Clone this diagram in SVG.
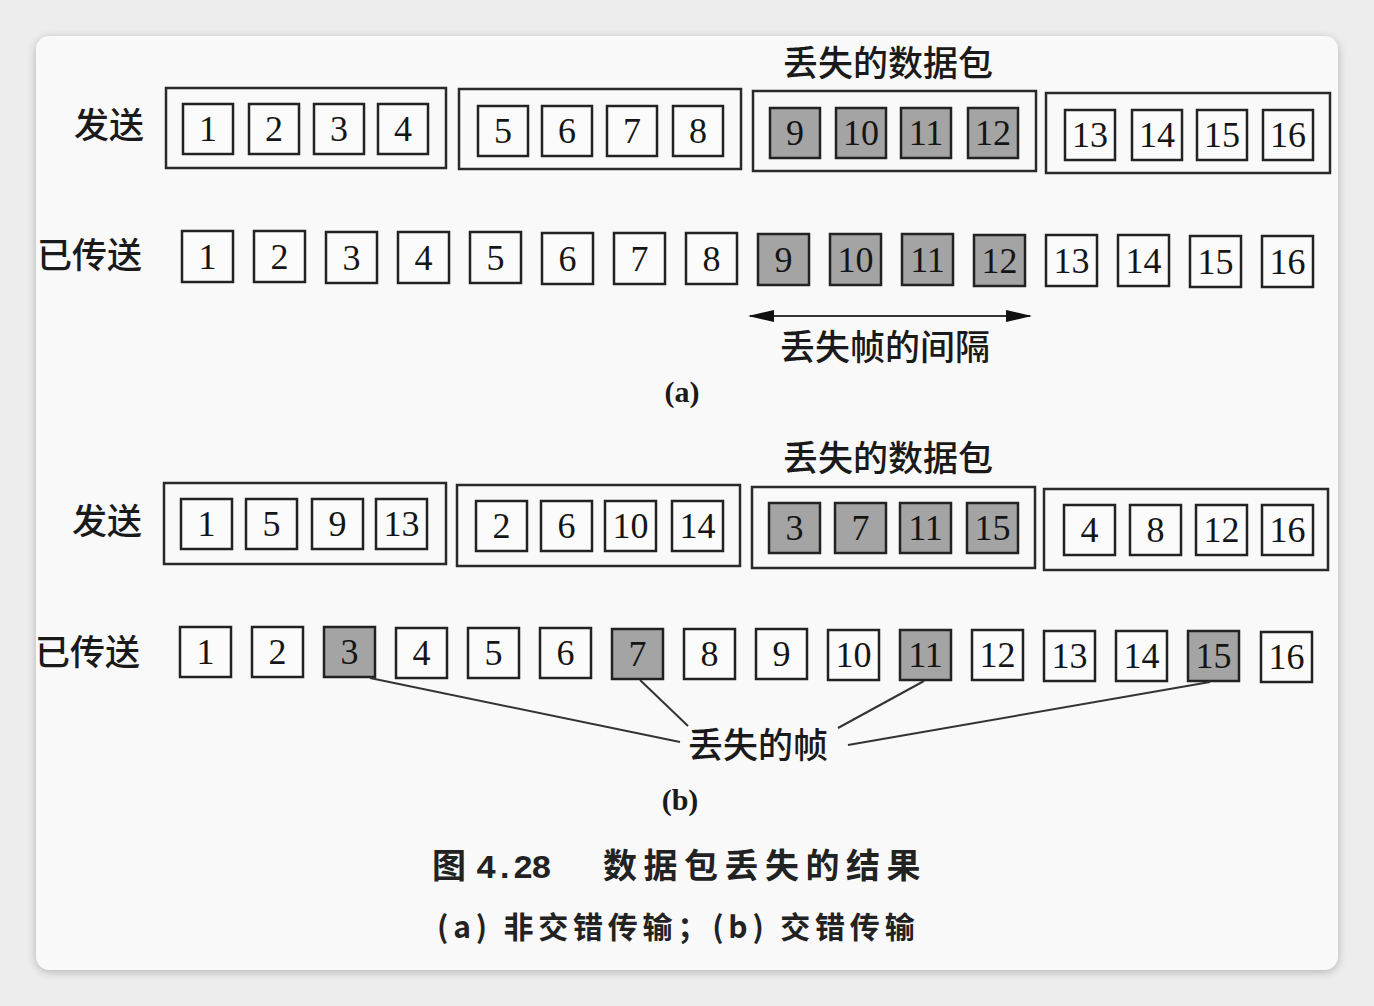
<svg xmlns="http://www.w3.org/2000/svg" width="1374" height="1006" viewBox="0 0 1374 1006">
<defs>
<style>
.bg{fill:#ededed}
.card{fill:#f9f9f9}
.g{fill:none;stroke:#2a2a2a;stroke-width:2.5}
.b{fill:#fbfbfb;stroke:#222;stroke-width:2.5}
.s{fill:#a4a4a4;stroke:#222;stroke-width:2.5}
.n{font-family:"Liberation Serif","Times New Roman",serif;font-size:36px;fill:#151515;text-anchor:middle}
.cn{font-family:"Noto Sans CJK SC",sans-serif;font-size:35px;fill:#1a1a1a;font-weight:500}
.lb{font-family:"Liberation Serif",serif;font-size:30px;font-weight:bold;fill:#1a1a1a;text-anchor:middle}
.cap{font-family:"Noto Sans CJK SC",sans-serif;font-weight:bold;fill:#222}
.mono{font-family:"Liberation Mono","Courier New",monospace;font-weight:bold;fill:#222}
.ln{stroke:#333;stroke-width:2;fill:none}
</style>
<marker id="ah" viewBox="0 0 26 12" refX="24" refY="6" markerWidth="26" markerHeight="12" markerUnits="userSpaceOnUse" orient="auto-start-reverse">
<path d="M0,0 L26,6 L0,12 Z" fill="#111"/>
</marker>
<filter id="sh" x="-5%" y="-5%" width="110%" height="110%">
<feGaussianBlur in="SourceAlpha" stdDeviation="5"/>
<feOffset dy="2"/>
<feComponentTransfer><feFuncA type="linear" slope="0.25"/></feComponentTransfer>
<feMerge><feMergeNode/><feMergeNode in="SourceGraphic"/></feMerge>
</filter>
</defs>
<rect class="bg" x="0" y="0" width="1374" height="1006"/>
<rect class="card" x="36" y="36" width="1302" height="934" rx="14" filter="url(#sh)"/>

<!-- (a) labels -->
<text class="cn" x="783" y="76">丢失的数据包</text>
<text class="cn" x="74" y="138">发送</text>
<text class="cn" x="37" y="268">已传送</text>
<text class="cn" x="780" y="360">丢失帧的间隔</text>
<text class="lb" x="682" y="402">(a)</text>

<!-- (a) send groups -->
<g id="a-send-g1"><rect class="g" x="166" y="88" width="280" height="80"/>
<rect class="b" x="183" y="104" width="50" height="50"/><text class="n" x="208" y="141">1</text>
<rect class="b" x="249" y="104" width="50" height="50"/><text class="n" x="274" y="141">2</text>
<rect class="b" x="314" y="104" width="50" height="50"/><text class="n" x="339" y="141">3</text>
<rect class="b" x="378" y="104" width="50" height="50"/><text class="n" x="403" y="141">4</text></g>
<g id="a-send-g2"><rect class="g" x="459" y="89" width="282" height="80"/>
<rect class="b" x="478" y="106" width="50" height="50"/><text class="n" x="503" y="143">5</text>
<rect class="b" x="542" y="106" width="50" height="50"/><text class="n" x="567" y="143">6</text>
<rect class="b" x="607" y="106" width="50" height="50"/><text class="n" x="632" y="143">7</text>
<rect class="b" x="673" y="106" width="50" height="50"/><text class="n" x="698" y="143">8</text></g>
<g id="a-send-g3"><rect class="g" x="753" y="91" width="283" height="80"/>
<rect class="s" x="770" y="108" width="50" height="50"/><text class="n" x="795" y="145">9</text>
<rect class="s" x="836" y="108" width="50" height="50"/><text class="n" x="861" y="145">10</text>
<rect class="s" x="901" y="108" width="50" height="50"/><text class="n" x="926" y="145">11</text>
<rect class="s" x="968" y="108" width="50" height="50"/><text class="n" x="993" y="145">12</text></g>
<g id="a-send-g4"><rect class="g" x="1046" y="93" width="284" height="80"/>
<rect class="b" x="1065" y="110" width="50" height="50"/><text class="n" x="1090" y="147">13</text>
<rect class="b" x="1132" y="110" width="50" height="50"/><text class="n" x="1157" y="147">14</text>
<rect class="b" x="1197" y="110" width="50" height="50"/><text class="n" x="1222" y="147">15</text>
<rect class="b" x="1263" y="110" width="50" height="50"/><text class="n" x="1288" y="147">16</text></g>

<!-- (a) transmitted -->
<g id="a-tx">
<rect class="b" x="182" y="231" width="51" height="51"/><text class="n" x="207.5" y="269">1</text>
<rect class="b" x="254" y="231" width="51" height="51"/><text class="n" x="279.5" y="269">2</text>
<rect class="b" x="326" y="232" width="51" height="51"/><text class="n" x="351.5" y="270">3</text>
<rect class="b" x="398" y="232" width="51" height="51"/><text class="n" x="423.5" y="270">4</text>
<rect class="b" x="470" y="232" width="51" height="51"/><text class="n" x="495.5" y="270">5</text>
<rect class="b" x="542" y="233" width="51" height="51"/><text class="n" x="567.5" y="271">6</text>
<rect class="b" x="614" y="233" width="51" height="51"/><text class="n" x="639.5" y="271">7</text>
<rect class="b" x="686" y="233" width="51" height="51"/><text class="n" x="711.5" y="271">8</text>
<rect class="s" x="758" y="234" width="51" height="51"/><text class="n" x="783.5" y="272">9</text>
<rect class="s" x="830" y="234" width="51" height="51"/><text class="n" x="855.5" y="272">10</text>
<rect class="s" x="902" y="234" width="51" height="51"/><text class="n" x="927.5" y="272">11</text>
<rect class="s" x="974" y="235" width="51" height="51"/><text class="n" x="999.5" y="273">12</text>
<rect class="b" x="1046" y="235" width="51" height="51"/><text class="n" x="1071.5" y="273">13</text>
<rect class="b" x="1118" y="235" width="51" height="51"/><text class="n" x="1143.5" y="273">14</text>
<rect class="b" x="1190" y="236" width="51" height="51"/><text class="n" x="1215.5" y="274">15</text>
<rect class="b" x="1262" y="236" width="51" height="51"/><text class="n" x="1287.5" y="274">16</text>
</g>

<!-- (b) labels -->
<text class="cn" x="783" y="471">丢失的数据包</text>
<text class="cn" x="72" y="534">发送</text>
<text class="cn" x="35" y="665">已传送</text>
<text class="cn" x="688" y="758">丢失的帧</text>
<text class="lb" x="680" y="810">(b)</text>

<!-- (b) send groups -->
<g id="b-send-g1"><rect class="g" x="164" y="483" width="282" height="81"/>
<rect class="b" x="181" y="499" width="51" height="50"/><text class="n" x="206.5" y="536">1</text>
<rect class="b" x="246" y="499" width="51" height="50"/><text class="n" x="271.5" y="536">5</text>
<rect class="b" x="312" y="499" width="51" height="50"/><text class="n" x="337.5" y="536">9</text>
<rect class="b" x="376" y="499" width="51" height="50"/><text class="n" x="401.5" y="536">13</text></g>
<g id="b-send-g2"><rect class="g" x="457" y="485" width="283" height="81"/>
<rect class="b" x="476" y="501" width="51" height="50"/><text class="n" x="501.5" y="538">2</text>
<rect class="b" x="541" y="501" width="51" height="50"/><text class="n" x="566.5" y="538">6</text>
<rect class="b" x="605" y="501" width="51" height="50"/><text class="n" x="630.5" y="538">10</text>
<rect class="b" x="672" y="501" width="51" height="50"/><text class="n" x="697.5" y="538">14</text></g>
<g id="b-send-g3"><rect class="g" x="752" y="487" width="283" height="81"/>
<rect class="s" x="769" y="503" width="51" height="50"/><text class="n" x="794.5" y="540">3</text>
<rect class="s" x="835" y="503" width="51" height="50"/><text class="n" x="860.5" y="540">7</text>
<rect class="s" x="900" y="503" width="51" height="50"/><text class="n" x="925.5" y="540">11</text>
<rect class="s" x="967" y="503" width="51" height="50"/><text class="n" x="992.5" y="540">15</text></g>
<g id="b-send-g4"><rect class="g" x="1044" y="489" width="284" height="81"/>
<rect class="b" x="1064" y="505" width="51" height="50"/><text class="n" x="1089.5" y="542">4</text>
<rect class="b" x="1130" y="505" width="51" height="50"/><text class="n" x="1155.5" y="542">8</text>
<rect class="b" x="1196" y="505" width="51" height="50"/><text class="n" x="1221.5" y="542">12</text>
<rect class="b" x="1262" y="505" width="51" height="50"/><text class="n" x="1287.5" y="542">16</text></g>

<!-- (b) transmitted -->
<g id="b-tx">
<rect class="b" x="180" y="627" width="51" height="50"/><text class="n" x="205.5" y="664">1</text>
<rect class="b" x="252" y="627" width="51" height="50"/><text class="n" x="277.5" y="664">2</text>
<rect class="s" x="324" y="627" width="51" height="50"/><text class="n" x="349.5" y="664">3</text>
<rect class="b" x="396" y="628" width="51" height="50"/><text class="n" x="421.5" y="665">4</text>
<rect class="b" x="468" y="628" width="51" height="50"/><text class="n" x="493.5" y="665">5</text>
<rect class="b" x="540" y="628" width="51" height="50"/><text class="n" x="565.5" y="665">6</text>
<rect class="s" x="612" y="629" width="51" height="50"/><text class="n" x="637.5" y="666">7</text>
<rect class="b" x="684" y="629" width="51" height="50"/><text class="n" x="709.5" y="666">8</text>
<rect class="b" x="756" y="629" width="51" height="50"/><text class="n" x="781.5" y="666">9</text>
<rect class="b" x="828" y="630" width="51" height="50"/><text class="n" x="853.5" y="667">10</text>
<rect class="s" x="900" y="630" width="51" height="50"/><text class="n" x="925.5" y="667">11</text>
<rect class="b" x="972" y="630" width="51" height="50"/><text class="n" x="997.5" y="667">12</text>
<rect class="b" x="1044" y="631" width="51" height="50"/><text class="n" x="1069.5" y="668">13</text>
<rect class="b" x="1116" y="631" width="51" height="50"/><text class="n" x="1141.5" y="668">14</text>
<rect class="s" x="1188" y="631" width="51" height="50"/><text class="n" x="1213.5" y="668">15</text>
<rect class="b" x="1261" y="632" width="51" height="50"/><text class="n" x="1286.5" y="669">16</text>
</g>

<!-- connectors -->
<g id="connectors">
<line class="ln" x1="750" y1="316" x2="1030" y2="316" stroke-width="2.5" marker-start="url(#ah)" marker-end="url(#ah)"/>
<line class="ln" x1="370" y1="678" x2="680" y2="742"/>
<line class="ln" x1="640" y1="680" x2="688" y2="726"/>
<line class="ln" x1="924" y1="681" x2="838" y2="728"/>
<line class="ln" x1="1210" y1="682" x2="848" y2="745"/>
</g>

<!-- caption -->
<text class="cap" x="432" y="878" font-size="34">图</text>
<text class="mono" x="476" y="878" font-size="34" letter-spacing="-2">4.28</text>
<text class="cap" x="603" y="878" font-size="34" letter-spacing="6.5">数据包丢失的结果</text>
<text class="cap" x="437" y="938" font-size="30" letter-spacing="4.8">(a) 非交错传输；(b) 交错传输</text>
</svg>
